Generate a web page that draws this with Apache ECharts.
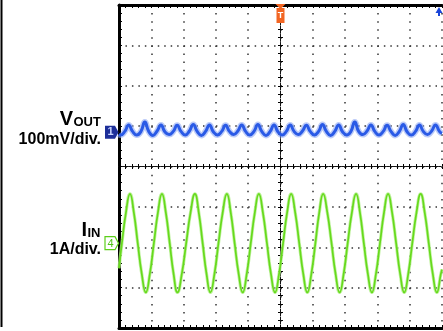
<!DOCTYPE html>
<html>
<head>
<meta charset="utf-8">
<script src="https://cdn.jsdelivr.net/npm/echarts@6/dist/echarts.min.js"></script>
<style>
  html, body { margin: 0; padding: 0; background: #fff; }
  #scope { width: 443px; height: 331px; }
</style>
</head>
<body>
<div id="scope"></div>
<script>
// Screen: 10 horizontal divisions (trigger at 0), 8 vertical divisions.
const timeDivs = [-5, 5];
const levelDivs = [-4, 4];

// Channel 1 ground marker and channel 4 ground marker, in divisions.
const ch1Level = 0.85;
const ch4Level = -1.9;

// Channel 1: output voltage ripple, 100 mV/div  [time div, level div]
const vOut = [
  [-5.00, 0.80],
  [-4.95, 0.78], [-4.82, 0.87], [-4.70, 1.03], [-4.58, 0.87],
  [-4.45, 0.78], [-4.32, 0.87], [-4.20, 1.10], [-4.08, 0.87],
  [-3.95, 0.77], [-3.82, 0.88], [-3.70, 1.03], [-3.58, 0.86],
  [-3.45, 0.79], [-3.32, 0.87], [-3.20, 1.02], [-3.08, 0.87],
  [-2.95, 0.78], [-2.82, 0.88], [-2.70, 1.04], [-2.58, 0.87],
  [-2.45, 0.77], [-2.32, 0.87], [-2.20, 1.03], [-2.08, 0.86],
  [-1.95, 0.78], [-1.82, 0.87], [-1.70, 1.02], [-1.58, 0.87],
  [-1.45, 0.79], [-1.32, 0.88], [-1.20, 1.03], [-1.08, 0.87],
  [-0.95, 0.78], [-0.82, 0.87], [-0.70, 1.04], [-0.58, 0.87],
  [-0.45, 0.77], [-0.32, 0.87], [-0.20, 1.03], [-0.08, 0.86],
  [0.05, 0.78], [0.18, 0.87], [0.30, 1.03], [0.42, 0.87],
  [0.55, 0.79], [0.68, 0.88], [0.80, 1.02], [0.92, 0.87],
  [1.05, 0.78], [1.18, 0.87], [1.30, 1.04], [1.42, 0.87],
  [1.55, 0.77], [1.68, 0.87], [1.80, 1.03], [1.92, 0.86],
  [2.05, 0.78], [2.18, 0.87], [2.30, 1.10], [2.42, 0.87],
  [2.55, 0.79], [2.68, 0.88], [2.80, 1.03], [2.92, 0.87],
  [3.05, 0.78], [3.18, 0.87], [3.30, 1.02], [3.42, 0.87],
  [3.55, 0.77], [3.68, 0.87], [3.80, 1.04], [3.92, 0.86],
  [4.05, 0.78], [4.18, 0.87], [4.30, 1.03], [4.42, 0.87],
  [4.55, 0.79], [4.68, 0.88], [4.80, 1.03], [4.92, 0.87],
  [5.00, 0.82]
];

// Channel 4: input current, 1 A/div  [time div, level div]
const iIn = [
  [-5.00, -2.52],
  [-4.91, -1.90], [-4.785, -1.14], [-4.66, -0.68], [-4.54, -1.14],
  [-4.42, -1.90], [-4.295, -2.66], [-4.17, -3.12], [-4.045, -2.66],
  [-3.92, -1.90], [-3.795, -1.14], [-3.67, -0.68], [-3.55, -1.14],
  [-3.43, -1.90], [-3.31, -2.66], [-3.19, -3.12], [-3.055, -2.66],
  [-2.92, -1.90], [-2.785, -1.14], [-2.65, -0.68], [-2.53, -1.14],
  [-2.41, -1.90], [-2.29, -2.66], [-2.17, -3.12], [-2.045, -2.66],
  [-1.92, -1.90], [-1.79, -1.14], [-1.66, -0.68], [-1.54, -1.14],
  [-1.42, -1.90], [-1.295, -2.66], [-1.17, -3.12], [-1.045, -2.66],
  [-0.92, -1.90], [-0.795, -1.14], [-0.67, -0.68], [-0.545, -1.14],
  [-0.42, -1.90], [-0.295, -2.66], [-0.17, -3.12], [-0.045, -2.66],
  [0.08, -1.90], [0.205, -1.14], [0.33, -0.68], [0.455, -1.14],
  [0.58, -1.90], [0.705, -2.66], [0.83, -3.12], [0.955, -2.66],
  [1.08, -1.90], [1.20, -1.14], [1.32, -0.68], [1.45, -1.14],
  [1.58, -1.90], [1.705, -2.66], [1.83, -3.12], [1.955, -2.66],
  [2.08, -1.90], [2.21, -1.14], [2.34, -0.68], [2.46, -1.14],
  [2.58, -1.90], [2.705, -2.66], [2.83, -3.12], [2.955, -2.66],
  [3.08, -1.90], [3.205, -1.14], [3.33, -0.68], [3.455, -1.14],
  [3.58, -1.90], [3.705, -2.66], [3.83, -3.12], [3.955, -2.66],
  [4.08, -1.90], [4.21, -1.14], [4.34, -0.68], [4.465, -1.14],
  [4.59, -1.90], [4.715, -2.66], [4.84, -3.12], [4.965, -2.66],
  [5.00, -2.55]
];

const FONT = '"Liberation Sans", Arial, sans-serif';
const BLACK = '#000';

function borderAxis(position, dotted) {
  return {
    type: 'value', min: timeDivs[0], max: timeDivs[1], interval: 1, position,
    axisLine: { onZero: false, lineStyle: { color: BLACK, width: 3 } },
    axisTick: { inside: true, length: 3, lineStyle: { color: BLACK, width: 1 } },
    minorTick: { show: true, splitNumber: 5, length: 3, lineStyle: { color: BLACK, width: 1 } },
    axisLabel: { show: false },
    splitLine: dotted
  };
}
function centerX(inside) {
  return {
    type: 'value', min: timeDivs[0], max: timeDivs[1], interval: 1, position: 'bottom',
    axisLine: { onZero: true, onZeroAxisIndex: 0, lineStyle: { color: '#111', width: 1, type: [2.2, 1.03] } },
    axisTick: { inside, length: 2.5, lineStyle: { color: BLACK, width: 1 } },
    minorTick: { show: true, splitNumber: 5, length: 2.5, lineStyle: { color: BLACK, width: 1 } },
    axisLabel: { show: false }, splitLine: { show: false }
  };
}
function centerY(inside) {
  return {
    type: 'value', min: levelDivs[0], max: levelDivs[1], interval: 1, position: 'left',
    axisLine: { onZero: true, onZeroAxisIndex: 0, lineStyle: { color: '#111', width: 1, type: [2.5, 1.54] } },
    axisTick: { inside, length: 2.5, lineStyle: { color: BLACK, width: 1 } },
    minorTick: { show: true, splitNumber: 5, length: 2.5, lineStyle: { color: BLACK, width: 1 } },
    axisLabel: { show: false }, splitLine: { show: false }
  };
}

const option = {
  animation: false,
  backgroundColor: '#fff',
  grid: { left: 119, right: 1, top: 5, bottom: 3, containLabel: false },
  xAxis: [
    borderAxis('bottom', { show: true, lineStyle: { color: '#333', width: 1.5, type: [1.5, 6.58] } }),
    borderAxis('top', { show: false }),
    centerX(true),
    centerX(false)
  ],
  yAxis: [
    {
      type: 'value', min: levelDivs[0], max: levelDivs[1], interval: 1, position: 'left',
      axisLine: { onZero: false, lineStyle: { color: BLACK, width: 3 } },
      axisTick: { inside: true, length: 3, lineStyle: { color: BLACK, width: 1 } },
      minorTick: { show: true, splitNumber: 5, length: 3, lineStyle: { color: BLACK, width: 1 } },
      axisLabel: { show: false },
      splitLine: { show: true, lineStyle: { color: '#333', width: 1.5, type: [1.5, 4.96] } }
    },
    centerY(true),
    centerY(false)
  ],
  series: [
    {
      name: 'VOUT halo', type: 'line', data: vOut, smooth: true, symbol: 'none', z: 3,
      lineStyle: { color: '#8fa8f4', width: 6, opacity: 0.6 }
    },
    {
      name: 'VOUT', type: 'line', data: vOut, smooth: true, symbol: 'none', z: 4,
      lineStyle: { color: '#2a5ae6', width: 3 }
    },
    {
      name: 'IIN halo', type: 'line', data: iIn, smooth: true, symbol: 'none', z: 3,
      lineStyle: { color: '#b0ee88', width: 3.2, opacity: 0.8 }
    },
    {
      name: 'IIN', type: 'line', data: iIn, smooth: true, symbol: 'none', z: 4,
      lineStyle: { color: '#66da1c', width: 1.7 }
    }
  ]
};

const chart = echarts.init(document.getElementById('scope'));
chart.setOption(option);

// Channel markers, trigger marker and captions
const px = (t, v) => chart.convertToPixel({ xAxisIndex: 0, yAxisIndex: 0 }, [t, v]);
const y1 = px(timeDivs[0], ch1Level)[1];
const y4 = px(timeDivs[0], ch4Level)[1];
const topMid = px(0, levelDivs[1]);
const bottomMid = px(0, levelDivs[0]);
const rightX = px(timeDivs[1], 0)[0];

function tag(y) {
  return [[105, y - 6.5], [115, y - 6.5], [118.5, y], [115, y + 6.5], [105, y + 6.5]];
}

chart.setOption({
  graphic: [
    // left frame rule
    { type: 'line', shape: { x1: 1.5, y1: 0, x2: 1.5, y2: bottomMid[1] - 1 }, style: { stroke: BLACK, lineWidth: 2 } },
    // channel 1 tag
    { type: 'polygon', shape: { points: tag(y1) }, style: { fill: '#1d2f99' }, z: 10 },
    { type: 'text', x: 110.5, y: y1, style: { text: '1', fill: '#c8d4ff', font: 'bold 11px ' + FONT, align: 'center', verticalAlign: 'middle' }, z: 11 },
    // channel 4 tag
    { type: 'polygon', shape: { points: tag(y4) }, style: { fill: '#fff', stroke: '#5ccf1a', lineWidth: 1.2 }, z: 10 },
    { type: 'text', x: 110.5, y: y4 + 0.5, style: { text: '4', fill: '#4fc414', font: '11px ' + FONT, align: 'center', verticalAlign: 'middle' }, z: 11 },
    // trigger position
    { type: 'polygon', shape: { points: [[topMid[0] - 5, topMid[1] - 1], [topMid[0] + 5, topMid[1] - 1], [topMid[0], topMid[1] + 4]] }, style: { fill: '#f26522' }, z: 10 },
    { type: 'rect', shape: { x: topMid[0] - 4, y: topMid[1] + 3, width: 8, height: 15 }, style: { fill: '#f26522' }, z: 10 },
    { type: 'text', x: topMid[0], y: topMid[1] + 10.5, style: { text: 'T', fill: '#fff', font: 'bold 9px ' + FONT, align: 'center', verticalAlign: 'middle' }, z: 11 },
    // trigger level pointer
    { type: 'polygon', shape: { points: [[rightX - 6.5, topMid[1] + 8], [rightX + 0.5, topMid[1] + 8], [rightX - 3, topMid[1] + 2]] }, style: { fill: '#1a44d8' }, z: 10 },
    { type: 'rect', shape: { x: rightX - 4, y: topMid[1] + 8, width: 2, height: 3 }, style: { fill: '#1a44d8' }, z: 10 },
    // captions
    { type: 'text', x: 73, y: 119, style: { text: 'V', fill: BLACK, font: 'bold 20px ' + FONT, align: 'right', verticalAlign: 'middle' } },
    { type: 'text', x: 73.5, y: 122.5, style: { text: 'OUT', fill: BLACK, font: 'bold 13px ' + FONT, align: 'left', verticalAlign: 'middle' } },
    { type: 'text', x: 101, y: 140, style: { text: '100mV/div.', fill: BLACK, font: 'bold 16px ' + FONT, align: 'right', verticalAlign: 'middle' } },
    { type: 'text', x: 87, y: 230, style: { text: 'I', fill: BLACK, font: 'bold 20px ' + FONT, align: 'right', verticalAlign: 'middle' } },
    { type: 'text', x: 87.5, y: 233.5, style: { text: 'IN', fill: BLACK, font: 'bold 13px ' + FONT, align: 'left', verticalAlign: 'middle' } },
    { type: 'text', x: 101, y: 249.5, style: { text: '1A/div.', fill: BLACK, font: 'bold 16px ' + FONT, align: 'right', verticalAlign: 'middle' } }
  ]
});
</script>
</body>
</html>
